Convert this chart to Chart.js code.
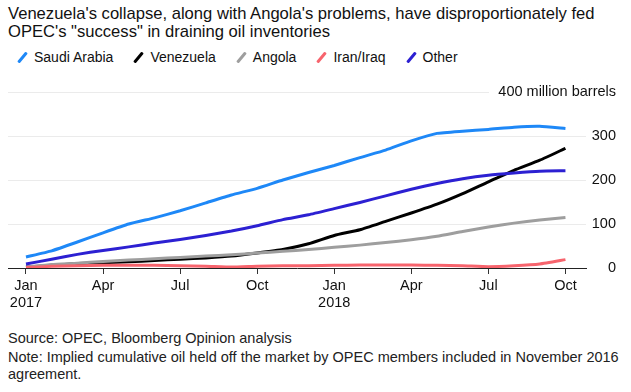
<!DOCTYPE html>
<html lang="en">
<head>
    <meta charset="UTF-8">
    <title>OPEC oil held off the market</title>
    <script src="https://cdn.jsdelivr.net/npm/chart.js@4.4.1/dist/chart.umd.min.js"></script>
    <style>
        body { margin: 0; width: 631px; height: 392px; background: #fff; font-family: "Liberation Sans", Arial, sans-serif; color: #111; position: relative; overflow: hidden; }
        .title { position: absolute; left: 8px; top: 5px; font-size: 16.6px; line-height: 18px; }
        .legend { position: absolute; left: 17px; top: 48px; font-size: 14px; line-height: 18px; display: flex; }
        .legend span.item { margin-right: 20px; display: flex; align-items: center; }
        .legend i { display: inline-block; width: 3px; height: 13px; margin: 0 10px 0 4px; transform: rotate(40deg); border-radius: 1px; }
        .chart-box { position: absolute; left: 0; top: 80px; width: 631px; height: 240px; }
        .footer { position: absolute; left: 8px; top: 329px; font-size: 14.5px; line-height: 18px; color: #222; }
        .footer p { margin: 0 0 2px 0; }
    </style>
</head>
<body>
    <div class="title">Venezuela's collapse, along with Angola's problems, have disproportionately fed<br>OPEC's "success" in draining oil inventories</div>
    <div class="legend" id="legend"></div>
    <div class="chart-box"><canvas id="oilChart" width="631" height="240"></canvas></div>
    <div class="footer">
        <p>Source: OPEC, Bloomberg Opinion analysis</p>
        <p style="line-height:17px">Note: Implied cumulative oil held off the market by OPEC members included in November 2016<br>agreement.</p>
    </div>
    <script>
        // monthly, Jan 2017 .. Oct 2018
        const months = ['Jan', 'Feb', 'Mar', 'Apr', 'May', 'Jun', 'Jul', 'Aug', 'Sep', 'Oct', 'Nov', 'Dec',
                        'Jan', 'Feb', 'Mar', 'Apr', 'May', 'Jun', 'Jul', 'Aug', 'Sep', 'Oct'];
        const tickMonths = [0, 3, 6, 9, 12, 15, 18, 21];
        const yearLabels = { 0: '2017', 12: '2018' };
        const yTicks = [0, 100, 200, 300, 400];
        const yUnit = 'million barrels';

        const saudiArabia = [25, 39, 59, 80, 100, 114, 130, 148, 166, 181, 200, 217, 233, 251, 268, 289, 306, 311, 315, 320, 322, 317];
        const venezuela   = [2, 6, 10, 12, 14, 17, 20, 23, 27, 34, 42, 55, 74, 87, 106, 125, 145, 169, 196, 222, 245, 272];
        const angola      = [2, 8, 11, 15, 18, 21, 24, 27, 30, 34, 38, 42, 47, 52, 58, 64, 72, 83, 93, 102, 109, 115];
        const iranIraq    = [1, 4, 5, 6, 6, 6, 5, 4, 2, 4, 5, 5, 6, 7, 7, 7, 6, 5, 3, 5, 9, 19];
        const other       = [9, 20, 31, 40, 48, 57, 65, 74, 84, 96, 110, 121, 135, 149, 164, 179, 192, 203, 211, 216, 220, 221];

        const series = [
            { label: 'Saudi Arabia', data: saudiArabia, color: '#1e88f7', order: 4 },
            { label: 'Venezuela', data: venezuela, color: '#000000', order: 3 },
            { label: 'Angola', data: angola, color: '#9e9e9e', order: 2 },
            { label: 'Iran/Iraq', data: iranIraq, color: '#f7646d', order: 0 },
            { label: 'Other', data: other, color: '#2c20d2', order: 1 }
        ];

        const legend = document.getElementById('legend');
        series.forEach(s => {
            const item = document.createElement('span');
            item.className = 'item';
            item.innerHTML = '<i style="background:' + s.color + '"></i>' + s.label;
            legend.appendChild(item);
        });

        const tickFont = { family: 'Liberation Sans', size: 14.5 };

        // horizontal grid (top line stops short of its label) + the long top label
        const gridPlugin = {
            id: 'grid',
            beforeDatasetsDraw(chart) {
                const { ctx, chartArea, scales } = chart;
                ctx.save();
                ctx.strokeStyle = '#ebebeb';
                ctx.lineWidth = 1;
                yTicks.forEach(v => {
                    if (v === 0) return;
                    const y = Math.round(scales.y.getPixelForValue(v)) + 0.5;
                    const right = v === 400 ? chartArea.right - 97 : chartArea.right;
                    ctx.beginPath();
                    ctx.moveTo(chartArea.left, y);
                    ctx.lineTo(right, y);
                    ctx.stroke();
                });
                const top = yTicks[yTicks.length - 1];
                ctx.fillStyle = '#111';
                ctx.font = tickFont.size + 'px ' + tickFont.family;
                ctx.textAlign = 'right';
                ctx.textBaseline = 'middle';
                ctx.fillText(top + ' ' + yUnit, scales.y.right, scales.y.getPixelForValue(top));
                ctx.restore();
            }
        };

        new Chart(document.getElementById('oilChart'), {
            type: 'line',
            data: {
                datasets: series.map(s => ({
                    label: s.label,
                    data: s.data.map((v, i) => ({ x: i, y: v })),
                    borderColor: s.color,
                    borderWidth: 3,
                    pointRadius: 0,
                    tension: 0.15,
                    order: s.order
                }))
            },
            options: {
                responsive: false,
                animation: false,
                layout: { padding: { left: 8, right: 15, top: 12, bottom: 0 } },
                plugins: { legend: { display: false }, tooltip: { enabled: false } },
                scales: {
                    x: {
                        type: 'linear',
                        min: -0.7,
                        max: 21.8,
                        afterBuildTicks: (scale) => { scale.ticks = tickMonths.map(v => ({ value: v })); },
                        afterFit: (scale) => { scale.height = 52; },
                        grid: { drawOnChartArea: false, drawTicks: true, tickLength: 6, color: '#333' },
                        border: { display: true, color: '#222', width: 1 },
                        ticks: {
                            autoSkip: false,
                            maxRotation: 0,
                            padding: 3,
                            color: '#111',
                            font: tickFont,
                            callback: (v) => yearLabels[v] ? [months[v], yearLabels[v]] : months[v]
                        }
                    },
                    y: {
                        position: 'right',
                        min: 0,
                        max: 400,
                        afterBuildTicks: (scale) => { scale.ticks = yTicks.map(v => ({ value: v })); },
                        afterFit: (scale) => { scale.width = 30; },
                        grid: { display: false },
                        border: { display: false },
                        ticks: {
                            crossAlign: 'far',
                            padding: 0,
                            color: '#111',
                            font: tickFont,
                            callback: (v) => v === 400 ? '' : String(v)
                        }
                    }
                }
            },
            plugins: [gridPlugin]
        });
    </script>
</body>
</html>
